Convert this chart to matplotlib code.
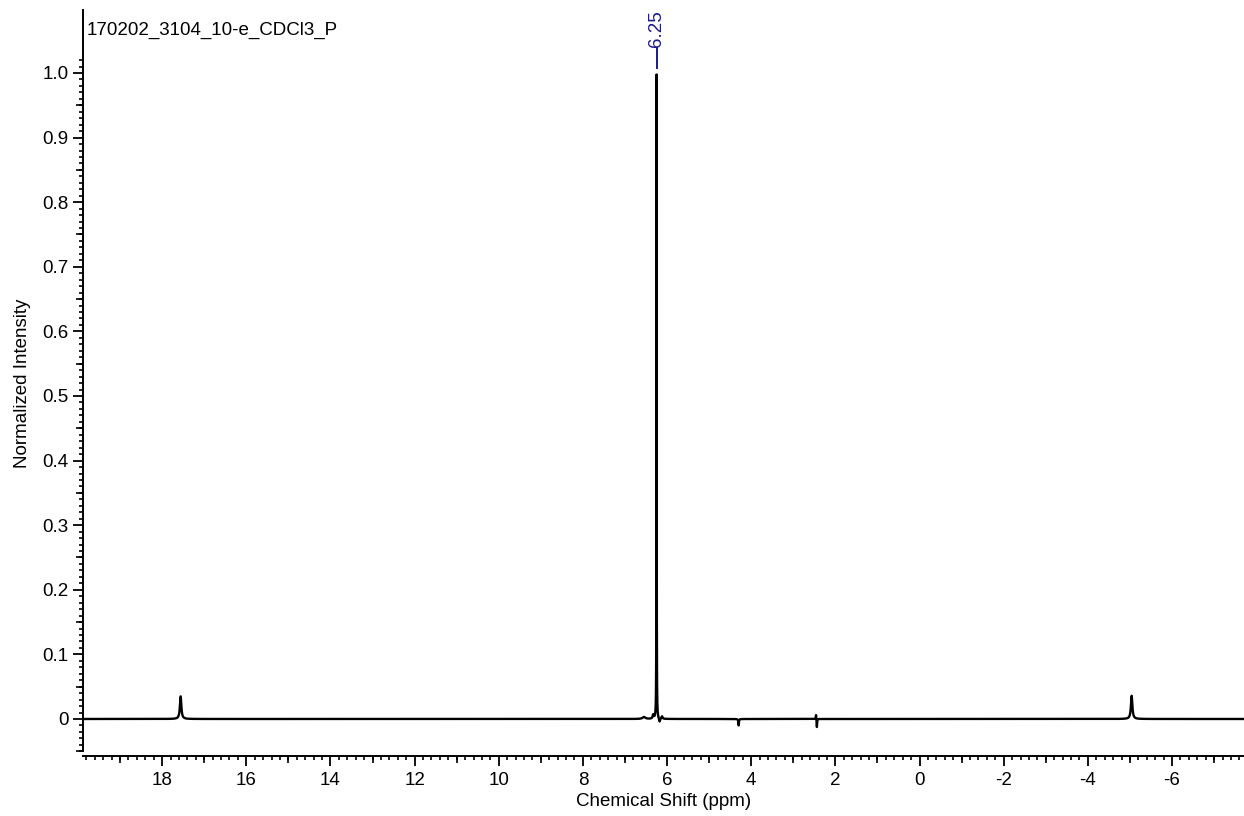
import numpy as np
import matplotlib.pyplot as plt
from matplotlib.ticker import FixedLocator, MultipleLocator

plt.rcParams['font.family'] = ['Liberation Sans', 'DejaVu Sans']

# sample name and peak list (ppm, normalized height, half width in ppm)
sample_name = "170202_3104_10-e_CDCl3_P"
peak_ppm = [6.25, 17.56, -5.04, 6.33, 6.18, 6.55, 6.12, 4.30, 2.46, 2.44]
peak_height = [1.0, 0.035, 0.036, 0.006, -0.006, 0.003, 0.004, -0.010, 0.007, -0.013]
peak_width = [0.003, 0.02, 0.02, 0.015, 0.015, 0.04, 0.015, 0.008, 0.006, 0.006]
labelled_peaks = [6.25]

x_major = [18, 16, 14, 12, 10, 8, 6, 4, 2, 0, -2, -4, -6]
y_major = [0, 0.1, 0.2, 0.3, 0.4, 0.5, 0.6, 0.7, 0.8, 0.9, 1.0]
y_labels = ["0", "0.1", "0.2", "0.3", "0.4", "0.5", "0.6", "0.7", "0.8", "0.9", "1.0"]

x_left, x_right = 19.88, -7.71
y_bot, y_top = -0.0573, 1.0975

# build the spectrum from lorentzian lines
ppm = np.linspace(x_left, x_right, 60000)
intensity = np.zeros_like(ppm)
for p0, h, w in zip(peak_ppm, peak_height, peak_width):
    intensity += h * w**2 / ((ppm - p0)**2 + w**2)

fig = plt.figure(figsize=(12.44, 8.16), dpi=100)
ax = fig.add_axes([83/1244, 60/816, 1 - 83/1244, (756 - 10)/816])

ax.plot(ppm, intensity, color='black', lw=1.7)

ax.set_xlim(x_left, x_right)
ax.set_ylim(y_bot, y_top)

for s in ['top', 'right']:
    ax.spines[s].set_visible(False)
for s in ['left', 'bottom']:
    ax.spines[s].set_linewidth(1.4)
ax.spines['left'].set_bounds(-0.05, y_top)

ax.xaxis.set_major_locator(FixedLocator(x_major))
ax.xaxis.set_minor_locator(MultipleLocator(0.2))
ax.yaxis.set_major_locator(FixedLocator(y_major))
ax.yaxis.set_minor_locator(FixedLocator(np.arange(-5, 103) / 100))
ax.set_yticklabels(y_labels)
ax.set_xticklabels([str(v) for v in x_major])

ax.tick_params(which='major', direction='out', length=7.5, width=1.3, labelsize=13.5)
ax.tick_params(axis='x', which='major', pad=4)
ax.tick_params(axis='y', which='major', pad=3)
ax.tick_params(which='minor', direction='out', length=3.2, width=1.2)

# intermediate ticks at odd ppm and at the half tenths
secx = ax.secondary_xaxis('bottom')
secx.set_xticks(np.arange(-7, 20, 2), labels=[])
secx.tick_params(length=5.2, width=1.2, direction='out')
secx.spines['bottom'].set_visible(False)

secy = ax.secondary_yaxis('left')
secy.set_yticks(np.arange(-0.05, 1.0, 0.1), labels=[])
secy.tick_params(length=5.2, width=1.2, direction='out')
secy.spines['left'].set_visible(False)

ax.set_xlabel("Chemical Shift (ppm)", fontsize=13.5, labelpad=3)
ax.set_ylabel("Normalized Intensity", fontsize=13.5, labelpad=8)

# peak pick label
for p in labelled_peaks:
    ax.plot([p, p], [1.0077, 1.0387], color='#1a1a8e', lw=1.4)
    ax.text(p, 1.0395, f"{p:.2f}", rotation=90, ha='center', va='bottom',
            color='#1a1a8e', fontsize=13.5)

fig.text(87/1244, 1 - 35/816, sample_name, fontsize=13.5, va='baseline', ha='left')

fig.savefig('out.png', dpi=100)
